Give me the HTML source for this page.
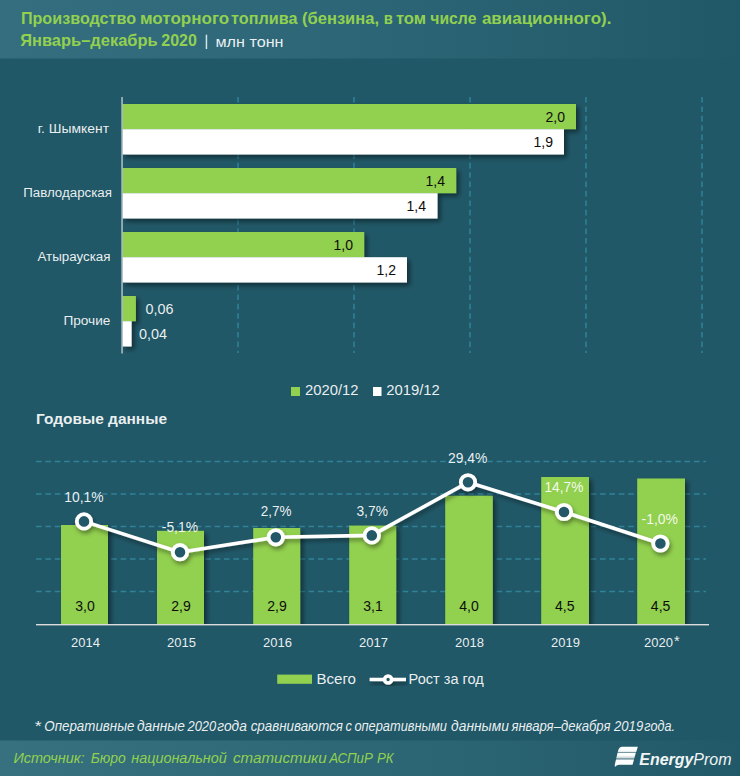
<!DOCTYPE html>
<html lang="ru">
<head>
<meta charset="utf-8">
<title>Производство моторного топлива</title>
<style>
html,body{margin:0;padding:0;background:#215867;}
body{width:740px;height:776px;overflow:hidden;font-family:"Liberation Sans",sans-serif;}
svg{display:block;}
text{font-family:"Liberation Sans",sans-serif;}
.t{font-weight:bold;fill:#92d050;}
.w{fill:#ffffff;fill-opacity:.92;}
.d{fill:#0d0d0d;}
.g{stroke:#31859c;stroke-width:1.5;stroke-dasharray:5.6 3.8;fill:none;opacity:.95}
</style>
</head>
<body>
<svg width="740" height="776" viewBox="0 0 740 776">
<defs>
<linearGradient id="hb" x1="0" y1="0" x2="1" y2="0">
<stop offset="0" stop-color="#356e7e"/><stop offset="0.45" stop-color="#2d6777"/><stop offset="1" stop-color="#215867"/>
</linearGradient>
<linearGradient id="fb" x1="0" y1="0" x2="1" y2="0">
<stop offset="0" stop-color="#37717f"/><stop offset="0.5" stop-color="#2d6776"/><stop offset="1" stop-color="#225968"/>
</linearGradient>
<filter id="sh" x="-10%" y="-20%" width="130%" height="150%">
<feDropShadow dx="2.8" dy="3" stdDeviation="2.5" flood-color="#000" flood-opacity="0.48"/>
</filter>
<filter id="sl" x="-10%" y="-30%" width="120%" height="160%">
<feDropShadow dx="1.5" dy="3" stdDeviation="2" flood-color="#000" flood-opacity="0.4"/>
</filter>
<clipPath id="cb"><rect x="0" y="440" width="740" height="184.2"/></clipPath>
<linearGradient id="lg" x1="0" y1="0" x2="0" y2="1"><stop offset="0" stop-color="#fff"/><stop offset="0.6" stop-color="#fff"/><stop offset="1" stop-color="#dfe8ea"/></linearGradient>
<linearGradient id="lg2" x1="0" y1="0" x2="0" y2="1"><stop offset="0" stop-color="#fff"/><stop offset="0.45" stop-color="#fdfefe"/><stop offset="1" stop-color="#b9cace"/></linearGradient>
</defs>
<rect width="740" height="776" fill="#215867"/>
<rect x="0" y="0" width="740" height="58.5" fill="url(#hb)"/>
<rect x="0" y="740.5" width="740" height="35.5" fill="url(#fb)"/>

<!-- title -->
<text class="t" x="20.9" y="24" font-size="16.2" textLength="115.2" lengthAdjust="spacingAndGlyphs">Производство</text>
<text class="t" x="139.9" y="24" font-size="16.2" textLength="89.4" lengthAdjust="spacingAndGlyphs">моторного</text>
<text class="t" x="231.1" y="24" font-size="16.2" textLength="66.3" lengthAdjust="spacingAndGlyphs">топлива</text>
<text class="t" x="302.1" y="24" font-size="16.2" textLength="76.9" lengthAdjust="spacingAndGlyphs">(бензина,</text>
<text class="t" x="383.7" y="24" font-size="16.2" textLength="9.1" lengthAdjust="spacingAndGlyphs">в</text>
<text class="t" x="395.9" y="24" font-size="16.2" textLength="30.2" lengthAdjust="spacingAndGlyphs">том</text>
<text class="t" x="430.3" y="24" font-size="16.2" textLength="46.1" lengthAdjust="spacingAndGlyphs">числе</text>
<text class="t" x="481.9" y="24" font-size="16.2" textLength="129.5" lengthAdjust="spacingAndGlyphs">авиационного).</text>
<text class="t" x="20.2" y="46.4" font-size="16.2" textLength="137.5" lengthAdjust="spacingAndGlyphs">Январь–декабрь</text>
<text class="t" x="161.3" y="46.4" font-size="16.2" textLength="35.6" lengthAdjust="spacingAndGlyphs">2020</text>
<rect x="205.7" y="34.7" width="1.5" height="14.3" fill="#cfe3ea"/>
<text class="w" x="215.5" y="46.7" font-size="15" textLength="68" lengthAdjust="spacingAndGlyphs">млн тонн</text>

<!-- top chart grid -->
<g class="g">
<path d="M238 97V353M354 97V353M470 97V353M586 97V353M702 97V353"/>
</g>
<!-- bars -->
<g filter="url(#sh)">
<rect x="122.5" y="104" width="453.5" height="25.2" fill="#92d050"/>
<rect x="122.5" y="129.2" width="441.5" height="25.3" fill="#fff"/>
<rect x="122.5" y="168" width="333.7" height="25.2" fill="#92d050"/>
<rect x="122.5" y="193.2" width="315" height="25.3" fill="#fff"/>
<rect x="122.5" y="232" width="241.7" height="25.2" fill="#92d050"/>
<rect x="122.5" y="257.2" width="284.5" height="25.3" fill="#fff"/>
<rect x="122.5" y="296" width="13.4" height="25.2" fill="#92d050"/>
<rect x="122.5" y="321.2" width="9.1" height="25.3" fill="#fff"/>
</g>
<rect x="121.4" y="97" width="1.3" height="256.5" fill="#c6d0d3"/>

<!-- bar labels -->
<g font-size="15" text-anchor="end" lengthAdjust="spacingAndGlyphs">
<text class="d" x="565" y="121.5" textLength="19.5" lengthAdjust="spacingAndGlyphs">2,0</text>
<text class="d" x="553" y="146.8" textLength="19.5" lengthAdjust="spacingAndGlyphs">1,9</text>
<text class="d" x="445" y="185.5" textLength="19.5" lengthAdjust="spacingAndGlyphs">1,4</text>
<text class="d" x="426" y="210.8" textLength="19.5" lengthAdjust="spacingAndGlyphs">1,4</text>
<text class="d" x="353" y="249.5" textLength="19.5" lengthAdjust="spacingAndGlyphs">1,0</text>
<text class="d" x="396" y="274.8" textLength="19.5" lengthAdjust="spacingAndGlyphs">1,2</text>
</g>
<g font-size="15">
<text class="w" x="145.4" y="313.5" textLength="28" lengthAdjust="spacingAndGlyphs">0,06</text>
<text class="w" x="139" y="338.8" textLength="28" lengthAdjust="spacingAndGlyphs">0,04</text>
</g>
<!-- category labels -->
<g font-size="12.5" text-anchor="end" class="w">
<text x="109" y="133.2" textLength="71.3" lengthAdjust="spacingAndGlyphs">г. Шымкент</text>
<text x="112" y="196.9" textLength="88.8" lengthAdjust="spacingAndGlyphs">Павлодарская</text>
<text x="110.5" y="261.4" textLength="73" lengthAdjust="spacingAndGlyphs">Атырауская</text>
<text x="110.4" y="325.4" textLength="47" lengthAdjust="spacingAndGlyphs">Прочие</text>
</g>
<!-- legend 1 -->
<rect x="291" y="387" width="9" height="9" fill="#92d050"/>
<text class="w" x="305" y="395" font-size="14.5" textLength="53.6" lengthAdjust="spacingAndGlyphs">2020/12</text>
<rect x="373" y="387" width="8.5" height="9" fill="#fff"/>
<text class="w" x="386.2" y="395" font-size="14.5" textLength="53.6" lengthAdjust="spacingAndGlyphs">2019/12</text>

<text class="w" x="36" y="424.3" font-size="15" font-weight="bold" textLength="131" lengthAdjust="spacingAndGlyphs">Годовые данные</text>

<!-- bottom chart grid -->
<g class="g">
<path d="M36 461.6H706M36 494H706M36 526.5H706M36 559H706M36 591.5H706"/>
</g>
<g clip-path="url(#cb)"><g filter="url(#sh)" fill="#92d050">
<rect x="61" y="525" width="47" height="99.5"/>
<rect x="157" y="530.8" width="47" height="93.7"/>
<rect x="253.2" y="528" width="47" height="96.5"/>
<rect x="349.2" y="525.6" width="47" height="98.9"/>
<rect x="445.2" y="495.7" width="47.6" height="128.8"/>
<rect x="541.2" y="477" width="47.8" height="147.5"/>
<rect x="637.2" y="478.5" width="47.8" height="146"/>
</g></g>
<rect x="36" y="624" width="673" height="1.4" fill="#dcdcdc"/>

<g filter="url(#sl)">
<polyline points="84,521.4 180,552.2 275.8,537.3 371.8,535.4 468,482.3 564,512 660.4,543.5" fill="none" stroke="#fff" stroke-width="3.6" stroke-linejoin="round"/>
<g fill="#215867" stroke="#fff" stroke-width="3.8">
<circle cx="84" cy="521.4" r="7.2"/><circle cx="180" cy="552.2" r="7.2"/><circle cx="275.8" cy="537.3" r="7.2"/>
<circle cx="371.8" cy="535.4" r="7.2"/><circle cx="468" cy="482.3" r="7.2"/><circle cx="564" cy="512" r="7.2"/><circle cx="660.4" cy="543.5" r="7.2"/>
</g>
</g>

<g font-size="15" text-anchor="middle" class="w">
<text x="84" y="501.6" textLength="39.3" lengthAdjust="spacingAndGlyphs">10,1%</text>
<text x="179.9" y="532.4" textLength="36.3" lengthAdjust="spacingAndGlyphs">-5,1%</text>
<text x="276.2" y="516.2" textLength="30.8" lengthAdjust="spacingAndGlyphs">2,7%</text>
<text x="372.2" y="516.2" textLength="31.5" lengthAdjust="spacingAndGlyphs">3,7%</text>
<text x="467.7" y="463" textLength="39.4" lengthAdjust="spacingAndGlyphs">29,4%</text>
<text x="563.9" y="492.4" textLength="38.9" lengthAdjust="spacingAndGlyphs">14,7%</text>
<text x="659.8" y="523.8" textLength="36.4" lengthAdjust="spacingAndGlyphs">-1,0%</text>
</g>
<g font-size="15" text-anchor="middle" class="d">
<text x="85" y="611" textLength="19.5" lengthAdjust="spacingAndGlyphs">3,0</text><text x="181" y="611" textLength="19.5" lengthAdjust="spacingAndGlyphs">2,9</text><text x="277" y="611" textLength="19.5" lengthAdjust="spacingAndGlyphs">2,9</text><text x="373" y="611" textLength="19.5" lengthAdjust="spacingAndGlyphs">3,1</text>
<text x="469" y="611" textLength="19.5" lengthAdjust="spacingAndGlyphs">4,0</text><text x="564.8" y="611" textLength="19.5" lengthAdjust="spacingAndGlyphs">4,5</text><text x="660.6" y="611" textLength="19.5" lengthAdjust="spacingAndGlyphs">4,5</text>
</g>
<g font-size="13" text-anchor="middle" class="w">
<text x="85.4" y="646.6">2014</text><text x="181.4" y="646.6">2015</text><text x="277.4" y="646.6">2016</text><text x="373.4" y="646.6">2017</text>
<text x="469.4" y="646.6">2018</text><text x="565.4" y="646.6">2019</text><text x="658.5" y="646.6">2020</text>
<text x="676.8" y="646.2" font-size="14.5" text-anchor="middle">*</text>
</g>

<!-- legend 2 -->
<rect x="277.2" y="674.6" width="34.8" height="9.2" fill="#92d050"/>
<text class="w" x="316.4" y="683.7" font-size="14" textLength="39.6" lengthAdjust="spacingAndGlyphs">Всего</text>
<g filter="url(#sl)">
<path d="M369.6 679.5H406" stroke="#fff" stroke-width="3.4"/>
<circle cx="388.1" cy="679.5" r="3.5" fill="#215867" stroke="#fff" stroke-width="3.6"/>
</g>
<text class="w" x="408.6" y="683.7" font-size="14" textLength="75.2" lengthAdjust="spacingAndGlyphs">Рост за год</text>

<!-- footnote -->
<text class="w" font-style="italic" x="33.9" y="730.9" font-size="14" textLength="6.9" lengthAdjust="spacingAndGlyphs">*</text>
<text class="w" font-style="italic" x="44.3" y="730.9" font-size="14" textLength="90.1" lengthAdjust="spacingAndGlyphs">Оперативные</text>
<text class="w" font-style="italic" x="137.0" y="730.9" font-size="14" textLength="48.0" lengthAdjust="spacingAndGlyphs">данные</text>
<text class="w" font-style="italic" x="187.5" y="730.9" font-size="14" textLength="28.7" lengthAdjust="spacingAndGlyphs">2020</text>
<text class="w" font-style="italic" x="217.3" y="730.9" font-size="14" textLength="29.6" lengthAdjust="spacingAndGlyphs">года</text>
<text class="w" font-style="italic" x="250.7" y="730.9" font-size="14" textLength="92.3" lengthAdjust="spacingAndGlyphs">сравниваются</text>
<text class="w" font-style="italic" x="345.5" y="730.9" font-size="14" textLength="6.4" lengthAdjust="spacingAndGlyphs">с</text>
<text class="w" font-style="italic" x="354.4" y="730.9" font-size="14" textLength="92.6" lengthAdjust="spacingAndGlyphs">оперативными</text>
<text class="w" font-style="italic" x="451.1" y="730.9" font-size="14" textLength="57.8" lengthAdjust="spacingAndGlyphs">данными</text>
<text class="w" font-style="italic" x="511.4" y="730.9" font-size="14" textLength="99.1" lengthAdjust="spacingAndGlyphs">января–декабря</text>
<text class="w" font-style="italic" x="614.0" y="730.9" font-size="14" textLength="29.2" lengthAdjust="spacingAndGlyphs">2019</text>
<text class="w" font-style="italic" x="644.3" y="730.9" font-size="14" textLength="30.7" lengthAdjust="spacingAndGlyphs">года.</text>
<text fill="#92d050" font-style="italic" x="13.4" y="763.4" font-size="15" textLength="71.2" lengthAdjust="spacingAndGlyphs">Источник:</text>
<text fill="#92d050" font-style="italic" x="90.8" y="763.4" font-size="15" textLength="35.0" lengthAdjust="spacingAndGlyphs">Бюро</text>
<text fill="#92d050" font-style="italic" x="131.3" y="763.4" font-size="15" textLength="95.5" lengthAdjust="spacingAndGlyphs">национальной</text>
<text fill="#92d050" font-style="italic" x="233.0" y="763.4" font-size="15" textLength="93.7" lengthAdjust="spacingAndGlyphs">статистики</text>
<text fill="#92d050" font-style="italic" x="329.3" y="763.4" font-size="15" textLength="43.5" lengthAdjust="spacingAndGlyphs">АСПиР</text>
<text fill="#92d050" font-style="italic" x="376.9" y="763.4" font-size="15" textLength="16.7" lengthAdjust="spacingAndGlyphs">РК</text>

<!-- logo -->
<g>
<path d="M621.8 747H637.6L632.6 764.5H615.2L617.9 751Q618.6 747.6 621.8 747Z" fill="#c9d6da" opacity=".22"/>
<path d="M621.8 746.8H637.8L636.2 752H617.9Q618.6 747.4 621.8 746.8Z" fill="url(#lg)"/>
<path d="M617.6 752.8H635.8L634.2 758.5H616.2Z" fill="url(#lg2)"/>
<path d="M616 759.6H634L632.5 764.7H619Q616.3 764.9 615 767L614.7 765.2Z" fill="url(#lg)"/>
</g>
<text x="639.3" y="765.3" font-size="16" font-style="italic" fill="#f1f5f6"><tspan font-weight="bold" textLength="54" lengthAdjust="spacingAndGlyphs">Energy</tspan><tspan>Prom</tspan></text>
</svg>
</body>
</html>
